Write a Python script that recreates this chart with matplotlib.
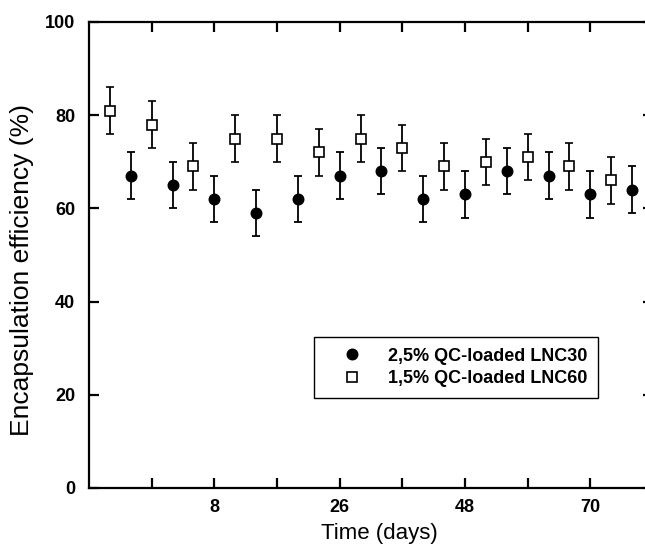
## encapsulation efficiency vs time, two LNC formulations
import numpy as np
import matplotlib.pyplot as plt
from matplotlib.lines import Line2D

plt.rcParams['font.family'] = ['Liberation Sans', 'DejaVu Sans']

## data (sample slots along the time axis; tick labels in days)
slot_lnc30 = [2, 4, 6, 8, 10, 12, 14, 16, 18, 20, 22, 24, 26]
ee_lnc30   = [67, 65, 62, 59, 62, 67, 68, 62, 63, 68, 67, 63, 64]
err_lnc30  = [5, 5, 5, 5, 5, 5, 5, 5, 5, 5, 5, 5, 5]

slot_lnc60 = [1, 3, 5, 7, 9, 11, 13, 15, 17, 19, 21, 23, 25]
ee_lnc60   = [81, 78, 69, 75, 75, 72, 75, 73, 69, 70, 71, 69, 66]
err_lnc60  = [5, 5, 5, 5, 5, 5, 5, 5, 5, 5, 5, 5, 5]

xtick_pos    = [3, 6, 9, 12, 15, 18, 21, 24]
xtick_labels = ['', '8', '', '26', '', '48', '', '70']
ytick_pos    = [0, 20, 40, 60, 80, 100]

lab30 = '2,5% QC-loaded LNC30'
lab60 = '1,5% QC-loaded LNC60'

## figure (right frame edge sits just past the picture edge)
fig = plt.figure(figsize=(6.45, 5.47), dpi=100)
ax = fig.add_axes([89/645, 59/547, 564/645, 466/547])

ax.errorbar(slot_lnc30, ee_lnc30, yerr=err_lnc30, fmt='o', color='black',
            ms=7.6, mfc='black', mec='black', ecolor='black',
            elinewidth=1.3, capsize=3, capthick=1.3, zorder=3)
ax.errorbar(slot_lnc60, ee_lnc60, yerr=err_lnc60, fmt='s', color='black',
            ms=6.5, mfc='white', mec='black', mew=1.2, ecolor='black',
            elinewidth=1.3, capsize=3, capthick=1.3, zorder=3)

ax.set_xlim(0, 27)
ax.set_ylim(0, 100)
ax.set_xticks(xtick_pos)
ax.set_xticklabels(xtick_labels)
ax.set_yticks(ytick_pos)

for s in ax.spines.values():
    s.set_linewidth(1.6)
ax.tick_params(direction='in', length=7, width=1.6, top=True, right=True,
               labelsize=13, pad=8)
ax.tick_params(axis='y', pad=10)
for t in ax.get_xticklabels() + ax.get_yticklabels():
    t.set_fontweight('bold')

ax.set_xlabel('Time (days)', fontsize=16, labelpad=5)
ax.xaxis.label.set_x(290/564)
ax.set_ylabel('Encapsulation efficiency (%)', fontsize=19, labelpad=8)
ax.yaxis.label.set_y(218/466)

## legend
handles = [Line2D([], [], ls='none', marker='o', ms=7.6, mfc='black', mec='black'),
           Line2D([], [], ls='none', marker='s', ms=6.5, mfc='white', mec='black', mew=1.2)]
leg = ax.legend(handles, [lab30, lab60], loc='lower right',
                bbox_to_anchor=(509/564, 90/466), borderaxespad=0,
                prop={'weight': 'bold', 'size': 13}, fancybox=False,
                edgecolor='black', framealpha=1, borderpad=0.6,
                labelspacing=0.3, handlelength=3.0, handletextpad=0.5)
leg.get_frame().set_linewidth(1.0)

fig.savefig('out.png', dpi=100)
